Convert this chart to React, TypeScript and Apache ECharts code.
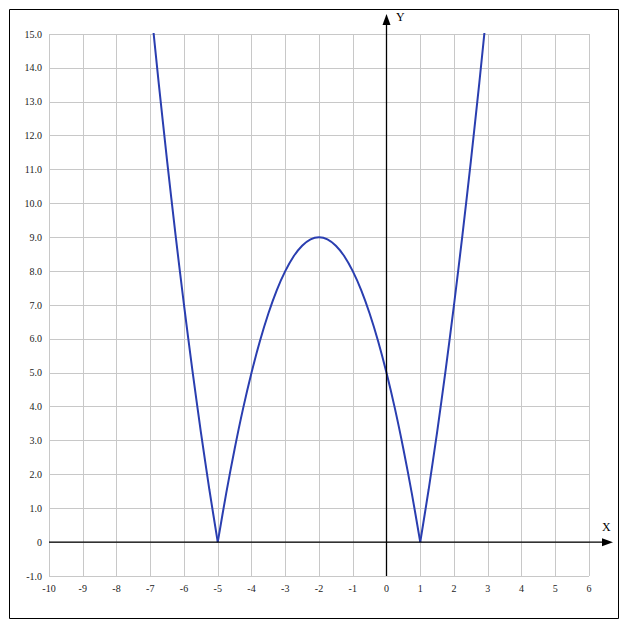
import React, { useEffect, useRef } from "react";
import * as echarts from "echarts";

// x values and y = |x^2 + 4x - 5|, in three branches
const leftX = [-7, -6.75, -6.5, -6.25, -6, -5.75, -5.5, -5.25, -5];
const leftY = [16, 13.56, 11.25, 9.06, 7, 5.06, 3.25, 1.56, 0];
const archX = [
  -5, -4.75, -4.5, -4.25, -4, -3.75, -3.5, -3.25, -3, -2.75, -2.5, -2.25, -2,
  -1.75, -1.5, -1.25, -1, -0.75, -0.5, -0.25, 0, 0.25, 0.5, 0.75, 1,
];
const archY = [
  0, 1.44, 2.75, 3.94, 5, 5.94, 6.75, 7.44, 8, 8.44, 8.75, 8.94, 9, 8.94, 8.75,
  8.44, 8, 7.44, 6.75, 5.94, 5, 3.94, 2.75, 1.44, 0,
];
const rightX = [1, 1.25, 1.5, 1.75, 2, 2.25, 2.5, 2.75, 3];
const rightY = [0, 1.56, 3.25, 5.06, 7, 9.06, 11.25, 13.56, 16];
const xMin = -10;
const xMax = 6;
const yMin = -1;
const yMax = 15;
const axisNames = ["X", "Y"];

const FONT = "Liberation Serif";

export default function App() {
  const ref = useRef<HTMLDivElement>(null);
  useEffect(() => {
    if (!ref.current) return;
    const chart = echarts.init(ref.current, null, { renderer: "svg" });
    const pair = (xs: number[], ys: number[]) => xs.map((x, i) => [x, ys[i]]);
    const lineSeries = (data: number[][], smooth: number | boolean) => ({
      type: "line",
      data,
      showSymbol: false,
      symbol: "none",
      smooth,
      clip: true,
      lineStyle: { color: "#2a3eb0", width: 2 },
      z: 5,
    });
    chart.setOption({
      animation: false,
      backgroundColor: "#ffffff",
      grid: { left: 49, top: 34, width: 540, height: 542, containLabel: false },
      xAxis: {
        type: "value",
        min: xMin,
        max: xMax,
        interval: 1,
        position: "bottom",
        axisLine: { show: false, onZero: false },
        axisTick: { show: false },
        splitLine: { show: true, lineStyle: { color: "#c8c8c8", width: 1 } },
        axisLabel: {
          fontFamily: FONT,
          fontSize: 10,
          color: "#222",
          margin: 7,
          showMinLabel: true,
          showMaxLabel: true,
        },
      },
      yAxis: {
        type: "value",
        min: yMin,
        max: yMax,
        interval: 1,
        axisLine: { show: false, onZero: false },
        axisTick: { show: false },
        splitLine: { show: true, lineStyle: { color: "#c8c8c8", width: 1 } },
        axisLabel: {
          fontFamily: FONT,
          fontSize: 10,
          color: "#222",
          margin: 7,
          formatter: (v: number) => (v === 0 ? "0" : v.toFixed(1)),
        },
      },
      series: [
        lineSeries(pair(leftX, leftY), 0.2),
        lineSeries(pair(archX, archY), 0.3),
        lineSeries(pair(rightX, rightY), 0.2),
      ],
    });

    const o = chart.convertToPixel({ gridIndex: 0 }, [0, 0]) as number[];
    const xl = chart.convertToPixel({ gridIndex: 0 }, [xMin, 0]) as number[];
    const yb = chart.convertToPixel({ gridIndex: 0 }, [0, yMin]) as number[];
    const xTip = 613;
    const yTip = 14;
    chart.setOption({
      graphic: [
        {
          type: "rect",
          shape: { x: 9.5, y: 9.5, width: 609, height: 609 },
          style: { fill: "none", stroke: "#000", lineWidth: 1 },
          z: 10,
        },
        {
          type: "line",
          shape: { x1: xl[0], y1: o[1], x2: xTip - 8, y2: o[1] },
          style: { stroke: "#000", lineWidth: 1.3 },
          z: 10,
        },
        {
          type: "polygon",
          shape: { points: [[xTip, o[1]], [xTip - 11, o[1] - 4], [xTip - 11, o[1] + 4]] },
          style: { fill: "#000" },
          z: 10,
        },
        {
          type: "line",
          shape: { x1: o[0], y1: yb[1], x2: o[0], y2: yTip + 8 },
          style: { stroke: "#000", lineWidth: 1.3 },
          z: 10,
        },
        {
          type: "polygon",
          shape: { points: [[o[0], yTip], [o[0] - 4, yTip + 11], [o[0] + 4, yTip + 11]] },
          style: { fill: "#000" },
          z: 10,
        },
        {
          type: "text",
          x: 602,
          y: 521,
          style: { text: axisNames[0], font: `12px "${FONT}"`, fill: "#000" },
          z: 10,
        },
        {
          type: "text",
          x: 396,
          y: 11,
          style: { text: axisNames[1], font: `12px "${FONT}"`, fill: "#000" },
          z: 10,
        },
      ],
    });
    return () => chart.dispose();
  }, []);
  return (
    <div
      ref={ref}
      style={{ position: "fixed", left: 0, top: 0, width: 627, height: 630 }}
    />
  );
}
